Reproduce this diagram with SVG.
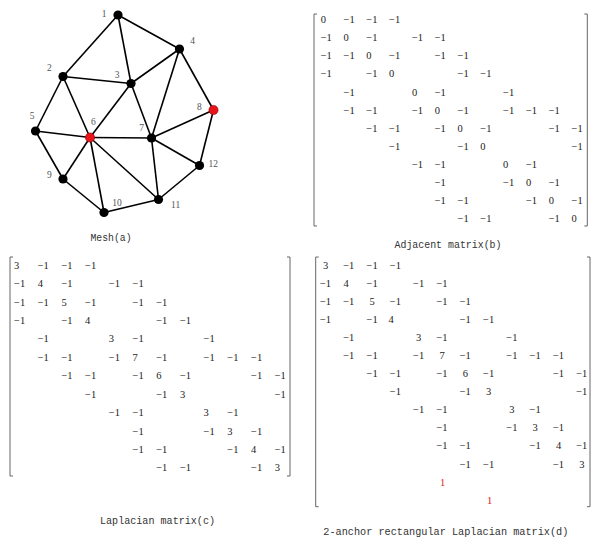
<svg xmlns="http://www.w3.org/2000/svg" width="592" height="540" viewBox="0 0 592 540">
<style>
.edge{stroke:#000;stroke-width:1.6;fill:none}
.node{fill:#000}
.anchor{fill:#e8141a;stroke:#8a0000;stroke-width:0.6}
.lbl{font-family:"Liberation Serif",serif;font-size:9.5px;fill:#555;text-anchor:middle}
.cap{font-family:"Liberation Mono","DejaVu Sans Mono",monospace;font-size:11.5px;fill:#333;text-anchor:middle}
.m{font-family:"Liberation Serif",serif;font-size:10.5px;fill:#222}
.mc{font-family:"Liberation Serif",serif;font-size:10.5px;fill:#222;text-anchor:middle}
.red{fill:#e01818}
.br{stroke:#666;stroke-width:1;fill:none}
</style>
<rect width="592" height="540" fill="#fff"/>
<g id="connectors">
<line class="edge" x1="118" y1="15" x2="63" y2="76.5"/>
<line class="edge" x1="118" y1="15" x2="131" y2="83.5"/>
<line class="edge" x1="118" y1="15" x2="179.5" y2="49"/>
<line class="edge" x1="63" y1="76.5" x2="131" y2="83.5"/>
<line class="edge" x1="63" y1="76.5" x2="35.5" y2="131"/>
<line class="edge" x1="63" y1="76.5" x2="90" y2="137.5"/>
<line class="edge" x1="131" y1="83.5" x2="179.5" y2="49"/>
<line class="edge" x1="131" y1="83.5" x2="90" y2="137.5"/>
<line class="edge" x1="131" y1="83.5" x2="151.5" y2="138"/>
<line class="edge" x1="179.5" y1="49" x2="151.5" y2="138"/>
<line class="edge" x1="179.5" y1="49" x2="213.5" y2="110"/>
<line class="edge" x1="35.5" y1="131" x2="90" y2="137.5"/>
<line class="edge" x1="35.5" y1="131" x2="63" y2="179"/>
<line class="edge" x1="90" y1="137.5" x2="151.5" y2="138"/>
<line class="edge" x1="90" y1="137.5" x2="63" y2="179"/>
<line class="edge" x1="90" y1="137.5" x2="104" y2="212.5"/>
<line class="edge" x1="90" y1="137.5" x2="158.5" y2="199.5"/>
<line class="edge" x1="151.5" y1="138" x2="213.5" y2="110"/>
<line class="edge" x1="151.5" y1="138" x2="158.5" y2="199.5"/>
<line class="edge" x1="151.5" y1="138" x2="199.5" y2="165.5"/>
<line class="edge" x1="213.5" y1="110" x2="199.5" y2="165.5"/>
<line class="edge" x1="63" y1="179" x2="104" y2="212.5"/>
<line class="edge" x1="104" y1="212.5" x2="158.5" y2="199.5"/>
<line class="edge" x1="158.5" y1="199.5" x2="199.5" y2="165.5"/>
</g>
<g id="n1"><circle class="node" cx="118" cy="15" r="4.6"/><text class="lbl" x="104" y="17">1</text></g>
<g id="n2"><circle class="node" cx="63" cy="76.5" r="4.6"/><text class="lbl" x="49.3" y="70.7">2</text></g>
<g id="n3"><circle class="node" cx="131" cy="83.5" r="4.6"/><text class="lbl" x="117" y="78">3</text></g>
<g id="n4"><circle class="node" cx="179.5" cy="49" r="4.6"/><text class="lbl" x="192.7" y="43.7">4</text></g>
<g id="n5"><circle class="node" cx="35.5" cy="131" r="4.6"/><text class="lbl" x="32" y="119">5</text></g>
<g id="n6"><circle class="anchor" cx="90" cy="137.5" r="4.6"/><text class="lbl" x="93.3" y="124.7">6</text></g>
<g id="n7"><circle class="node" cx="151.5" cy="138" r="4.6"/><text class="lbl" x="141.7" y="131">7</text></g>
<g id="n8"><circle class="anchor" cx="213.5" cy="110" r="4.6"/><text class="lbl" x="199.3" y="110">8</text></g>
<g id="n9"><circle class="node" cx="63" cy="179" r="4.6"/><text class="lbl" x="49.3" y="178">9</text></g>
<g id="n10"><circle class="node" cx="104" cy="212.5" r="4.6"/><text class="lbl" x="117" y="205.7">10</text></g>
<g id="n11"><circle class="node" cx="158.5" cy="199.5" r="4.6"/><text class="lbl" x="175.7" y="208">11</text></g>
<g id="n12"><circle class="node" cx="199.5" cy="165.5" r="4.6"/><text class="lbl" x="213.3" y="167">12</text></g>
<text class="cap" x="111" y="241" textLength="41" lengthAdjust="spacingAndGlyphs">Mesh(a)</text>

<g id="matrix-b">
<path class="br" d="M317,14 H314 V226 H317 M584.3,14 H587.3 V226 H584.3"/>
<text class="m" y="23.1"><tspan x="320.7">0</tspan><tspan x="343.5">−1</tspan><tspan x="366.3">−1</tspan><tspan x="389.1">−1</tspan></text>
<text class="m" y="41.2"><tspan x="320.7">−1</tspan><tspan x="343.5">0</tspan><tspan x="366.3">−1</tspan><tspan x="411.9">−1</tspan><tspan x="434.7">−1</tspan></text>
<text class="m" y="59.3"><tspan x="320.7">−1</tspan><tspan x="343.5">−1</tspan><tspan x="366.3">0</tspan><tspan x="389.1">−1</tspan><tspan x="434.7">−1</tspan><tspan x="457.5">−1</tspan></text>
<text class="m" y="77.4"><tspan x="320.7">−1</tspan><tspan x="366.3">−1</tspan><tspan x="389.1">0</tspan><tspan x="457.5">−1</tspan><tspan x="480.3">−1</tspan></text>
<text class="m" y="95.5"><tspan x="343.5">−1</tspan><tspan x="411.9">0</tspan><tspan x="434.7">−1</tspan><tspan x="503.1">−1</tspan></text>
<text class="m" y="113.6"><tspan x="343.5">−1</tspan><tspan x="366.3">−1</tspan><tspan x="411.9">−1</tspan><tspan x="434.7">0</tspan><tspan x="457.5">−1</tspan><tspan x="503.1">−1</tspan><tspan x="525.9">−1</tspan><tspan x="548.7">−1</tspan></text>
<text class="m" y="131.7"><tspan x="366.3">−1</tspan><tspan x="389.1">−1</tspan><tspan x="434.7">−1</tspan><tspan x="457.5">0</tspan><tspan x="480.3">−1</tspan><tspan x="548.7">−1</tspan><tspan x="571.5">−1</tspan></text>
<text class="m" y="149.8"><tspan x="389.1">−1</tspan><tspan x="457.5">−1</tspan><tspan x="480.3">0</tspan><tspan x="571.5">−1</tspan></text>
<text class="m" y="167.9"><tspan x="411.9">−1</tspan><tspan x="434.7">−1</tspan><tspan x="503.1">0</tspan><tspan x="525.9">−1</tspan></text>
<text class="m" y="186.0"><tspan x="434.7">−1</tspan><tspan x="503.1">−1</tspan><tspan x="525.9">0</tspan><tspan x="548.7">−1</tspan></text>
<text class="m" y="204.1"><tspan x="434.7">−1</tspan><tspan x="457.5">−1</tspan><tspan x="525.9">−1</tspan><tspan x="548.7">0</tspan><tspan x="571.5">−1</tspan></text>
<text class="m" y="222.2"><tspan x="457.5">−1</tspan><tspan x="480.3">−1</tspan><tspan x="548.7">−1</tspan><tspan x="571.5">0</tspan></text>
<text class="cap" x="448" y="248" textLength="107" lengthAdjust="spacingAndGlyphs">Adjacent matrix(b)</text>
</g>

<g id="matrix-c">
<path class="br" d="M13,257 H10 V476 H13 M287,257 H290 V476 H287"/>
<text class="m" y="268.6"><tspan x="14">3</tspan><tspan x="37.7">−1</tspan><tspan x="61.4">−1</tspan><tspan x="85.1">−1</tspan></text>
<text class="m" y="287.0"><tspan x="14">−1</tspan><tspan x="37.7">4</tspan><tspan x="61.4">−1</tspan><tspan x="108.8">−1</tspan><tspan x="132.5">−1</tspan></text>
<text class="m" y="305.5"><tspan x="14">−1</tspan><tspan x="37.7">−1</tspan><tspan x="61.4">5</tspan><tspan x="85.1">−1</tspan><tspan x="132.5">−1</tspan><tspan x="156.2">−1</tspan></text>
<text class="m" y="323.9"><tspan x="14">−1</tspan><tspan x="61.4">−1</tspan><tspan x="85.1">4</tspan><tspan x="156.2">−1</tspan><tspan x="179.9">−1</tspan></text>
<text class="m" y="342.3"><tspan x="37.7">−1</tspan><tspan x="108.8">3</tspan><tspan x="132.5">−1</tspan><tspan x="203.6">−1</tspan></text>
<text class="m" y="360.8"><tspan x="37.7">−1</tspan><tspan x="61.4">−1</tspan><tspan x="108.8">−1</tspan><tspan x="132.5">7</tspan><tspan x="156.2">−1</tspan><tspan x="203.6">−1</tspan><tspan x="227.3">−1</tspan><tspan x="251">−1</tspan></text>
<text class="m" y="379.2"><tspan x="61.4">−1</tspan><tspan x="85.1">−1</tspan><tspan x="132.5">−1</tspan><tspan x="156.2">6</tspan><tspan x="179.9">−1</tspan><tspan x="251">−1</tspan><tspan x="274.7">−1</tspan></text>
<text class="m" y="397.6"><tspan x="85.1">−1</tspan><tspan x="156.2">−1</tspan><tspan x="179.9">3</tspan><tspan x="274.7">−1</tspan></text>
<text class="m" y="416.0"><tspan x="108.8">−1</tspan><tspan x="132.5">−1</tspan><tspan x="203.6">3</tspan><tspan x="227.3">−1</tspan></text>
<text class="m" y="434.5"><tspan x="132.5">−1</tspan><tspan x="203.6">−1</tspan><tspan x="227.3">3</tspan><tspan x="251">−1</tspan></text>
<text class="m" y="452.9"><tspan x="132.5">−1</tspan><tspan x="156.2">−1</tspan><tspan x="227.3">−1</tspan><tspan x="251">4</tspan><tspan x="274.7">−1</tspan></text>
<text class="m" y="471.3"><tspan x="156.2">−1</tspan><tspan x="179.9">−1</tspan><tspan x="251">−1</tspan><tspan x="274.7">3</tspan></text>
<text class="cap" x="157.5" y="524" textLength="115" lengthAdjust="spacingAndGlyphs">Laplacian matrix(c)</text>
</g>

<g id="matrix-d">
<path class="br" d="M318.7,257 H315.7 V506.7 H318.7 M587,257 H590 V506.7 H587"/>
<text class="mc" y="268.6"><tspan x="325.5">3</tspan><tspan x="348.8">−1</tspan><tspan x="372.1">−1</tspan><tspan x="395.4">−1</tspan></text>
<text class="mc" y="286.7"><tspan x="325.5">−1</tspan><tspan x="346">4</tspan><tspan x="372.1">−1</tspan><tspan x="418.7">−1</tspan><tspan x="442">−1</tspan></text>
<text class="mc" y="304.8"><tspan x="325.5">−1</tspan><tspan x="348.8">−1</tspan><tspan x="372.1">5</tspan><tspan x="395.4">−1</tspan><tspan x="442">−1</tspan><tspan x="465.3">−1</tspan></text>
<text class="mc" y="322.8"><tspan x="325.5">−1</tspan><tspan x="372.1">−1</tspan><tspan x="391">4</tspan><tspan x="465.3">−1</tspan><tspan x="488.6">−1</tspan></text>
<text class="mc" y="340.9"><tspan x="348.8">−1</tspan><tspan x="418.7">3</tspan><tspan x="442">−1</tspan><tspan x="511.9">−1</tspan></text>
<text class="mc" y="359.0"><tspan x="348.8">−1</tspan><tspan x="372.1">−1</tspan><tspan x="418.7">−1</tspan><tspan x="442">7</tspan><tspan x="465.3">−1</tspan><tspan x="511.9">−1</tspan><tspan x="535.2">−1</tspan><tspan x="558.5">−1</tspan></text>
<text class="mc" y="377.1"><tspan x="372.1">−1</tspan><tspan x="395.4">−1</tspan><tspan x="442">−1</tspan><tspan x="465.3">6</tspan><tspan x="488.6">−1</tspan><tspan x="558.5">−1</tspan><tspan x="581.8">−1</tspan></text>
<text class="mc" y="395.2"><tspan x="395.4">−1</tspan><tspan x="465.3">−1</tspan><tspan x="488.6">3</tspan><tspan x="581.8">−1</tspan></text>
<text class="mc" y="413.2"><tspan x="418.7">−1</tspan><tspan x="442">−1</tspan><tspan x="511.9">3</tspan><tspan x="535.2">−1</tspan></text>
<text class="mc" y="431.3"><tspan x="442">−1</tspan><tspan x="511.9">−1</tspan><tspan x="535.2">3</tspan><tspan x="558.5">−1</tspan></text>
<text class="mc" y="449.4"><tspan x="442">−1</tspan><tspan x="465.3">−1</tspan><tspan x="535.2">−1</tspan><tspan x="558.5">4</tspan><tspan x="581.8">−1</tspan></text>
<text class="mc" y="467.5"><tspan x="465.3">−1</tspan><tspan x="488.6">−1</tspan><tspan x="558.5">−1</tspan><tspan x="581.8">3</tspan></text>
<text class="mc red" x="442.5" y="485.6">1</text>
<text class="mc red" x="489.5" y="503.6">1</text>
<text class="cap" x="445.8" y="534.5" style="font-size:11px" textLength="245" lengthAdjust="spacingAndGlyphs">2-anchor rectangular Laplacian matrix(d)</text>
</g>
</svg>
